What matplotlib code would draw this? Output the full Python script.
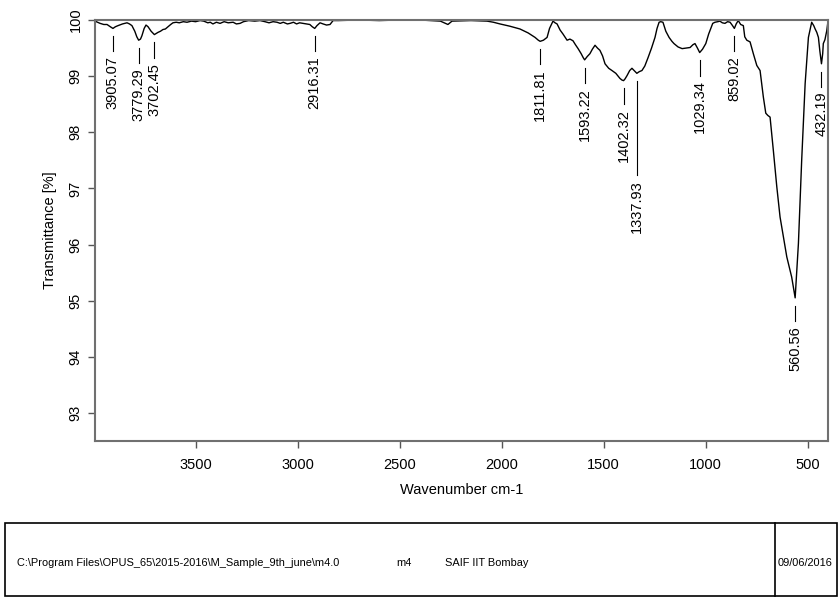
import matplotlib
matplotlib.use("Agg")
import matplotlib.pyplot as plt
from matplotlib.patches import Rectangle

plt.rcParams['font.family'] = ['Liberation Sans', 'DejaVu Sans']

# spectrum (wavenumber cm-1, transmittance %)
wavenumber = [3993, 3968, 3950, 3934, 3918, 3905, 3893, 3880, 3858, 3836, 3824, 3812,
              3798, 3788, 3779, 3770, 3763, 3752, 3743, 3733, 3718, 3702, 3693, 3684,
              3672, 3660, 3648, 3635, 3622, 3611, 3595, 3580, 3560, 3542, 3520, 3500,
              3478, 3460, 3440, 3428, 3415, 3398, 3380, 3360, 3340, 3316, 3300, 3282,
              3265, 3240, 3210, 3184, 3160, 3140, 3120, 3101, 3085, 3070, 3050, 3037,
              3020, 3005, 2990, 2973, 2955, 2940, 2928, 2916, 2905, 2890, 2875, 2858,
              2841, 2826, 2800, 2700, 2600, 2500, 2400, 2300, 2263, 2243, 2150, 2071,
              2040, 2008, 1960, 1910, 1870, 1836, 1820, 1811, 1795, 1777, 1765, 1748,
              1738, 1728, 1713, 1699, 1690, 1679, 1665, 1650, 1638, 1625, 1610, 1600,
              1593, 1580, 1567, 1555, 1542, 1530, 1518, 1505, 1493, 1475, 1459, 1440,
              1420, 1410, 1402, 1395, 1385, 1372, 1361, 1350, 1337, 1325, 1312, 1298,
              1282, 1265, 1248, 1238, 1228, 1220, 1209, 1195, 1179, 1165, 1155, 1135,
              1115, 1095, 1076, 1062, 1052, 1040, 1029, 1015, 999, 985, 965, 954,
              940, 930, 918, 905, 892, 880, 868, 859, 850, 840, 828, 815,
              808, 798, 782, 766, 749, 733, 717, 705, 695, 684, 668, 651,
              635, 619, 602, 578, 561, 545, 529, 512, 496, 480, 470, 463,
              455, 447, 440, 432, 426, 423, 415, 406, 400]
transmittance = [99.98, 99.94, 99.92, 99.92, 99.88, 99.85, 99.88, 99.90, 99.93, 99.95, 99.93, 99.90,
                 99.80, 99.70, 99.64, 99.66, 99.72, 99.85, 99.91, 99.88, 99.80, 99.74, 99.76, 99.78,
                 99.80, 99.83, 99.84, 99.88, 99.92, 99.95, 99.96, 99.95, 99.97, 99.96, 99.98, 99.97,
                 99.99, 99.98, 99.95, 99.96, 99.93, 99.96, 99.94, 99.97, 99.95, 99.96, 99.93, 99.94,
                 99.97, 99.99, 99.98, 99.99, 99.97, 99.95, 99.97, 99.96, 99.94, 99.96, 99.93, 99.94,
                 99.96, 99.93, 99.95, 99.94, 99.93, 99.92, 99.88, 99.85, 99.90, 99.95, 99.93, 99.91,
                 99.92, 99.99, 99.99, 100.0, 99.99, 100.0, 100.0, 99.98, 99.92, 99.98, 99.99, 99.98,
                 99.96, 99.93, 99.89, 99.84, 99.77, 99.69, 99.64, 99.62, 99.64, 99.69, 99.85, 99.98,
                 99.95, 99.93, 99.82, 99.75, 99.70, 99.64, 99.66, 99.63, 99.56, 99.49, 99.40, 99.33,
                 99.29, 99.35, 99.40, 99.48, 99.55, 99.50, 99.46, 99.36, 99.22, 99.14, 99.10, 99.05,
                 98.96, 98.93, 98.92, 98.95, 99.01, 99.10, 99.14, 99.10, 99.05, 99.08, 99.10, 99.18,
                 99.33, 99.50, 99.69, 99.85, 99.96, 99.97, 99.96, 99.80, 99.69, 99.62, 99.58, 99.52,
                 99.49, 99.50, 99.51, 99.56, 99.58, 99.50, 99.42, 99.48, 99.58, 99.75, 99.94, 99.96,
                 99.97, 99.98, 99.95, 99.94, 99.97, 99.96, 99.90, 99.85, 99.93, 99.99, 99.92, 99.90,
                 99.70, 99.64, 99.61, 99.40, 99.19, 99.10, 98.63, 98.34, 98.30, 98.27, 97.68, 97.03,
                 96.49, 96.14, 95.78, 95.42, 95.05, 96.02, 97.50, 98.87, 99.69, 99.96, 99.90, 99.84,
                 99.78, 99.69, 99.45, 99.22, 99.40, 99.58, 99.65, 99.81, 99.98]

# picked peaks
peak_labels = ["3905.07", "3779.29", "3702.45", "2916.31", "1811.81", "1593.22",
               "1402.32", "1337.93", "1029.34", "859.02", "560.56", "432.19"]
peak_wn = [3905.07, 3779.29, 3702.45, 2916.31, 1811.81, 1593.22,
           1402.32, 1337.93, 1029.34, 859.02, 560.56, 432.19]
peak_t = [99.85, 99.64, 99.74, 99.85, 99.62, 99.29,
          98.92, 99.05, 99.42, 99.85, 95.05, 99.22]

fig = plt.figure(figsize=(8.39, 5.98), dpi=100)
ax = fig.add_axes([95 / 839, 1 - 441 / 598, (828 - 95) / 839, (441 - 20) / 598])

ax.plot(wavenumber, transmittance, color="black", lw=1.0)

for lab, wn, t in zip(peak_labels, peak_wn, peak_t):
    top = t - 0.14
    length = 1.68 if lab == "1337.93" else 0.27
    ax.plot([wn, wn], [top, top - length], color="black", lw=0.8)
    ax.text(wn, top - length - 0.09, lab, rotation=90, ha="center", va="top", fontsize=10.5)

ax.set_xlim(3993, 400)
ax.set_ylim(92.5, 100)
ax.set_xticks([3500, 3000, 2500, 2000, 1500, 1000, 500])
ax.set_yticks([93, 94, 95, 96, 97, 98, 99, 100])
for lbl in ax.get_yticklabels():
    lbl.set_rotation(90)
    lbl.set_va("center")
ax.tick_params(axis="both", direction="out", length=5, width=1, color="#555555",
               labelsize=10.5)
ax.tick_params(axis="x", pad=7)
ax.tick_params(axis="y", pad=4)
for sp in ax.spines.values():
    sp.set_color("#707070")
    sp.set_linewidth(1.5)

ax.set_xlabel("Wavenumber cm-1", fontsize=10.5, labelpad=8)
ax.set_ylabel("Transmittance [%]", fontsize=10.5, labelpad=8)

# info box at the bottom
box = Rectangle((5 / 839, 2 / 598), 832 / 839, 73 / 598, transform=fig.transFigure,
                fill=False, edgecolor="black", lw=1.2)
fig.patches.append(box)
fig.add_artist(plt.Line2D([775 / 839, 775 / 839], [2 / 598, 75 / 598], color="black", lw=1.2))
ty = 1 - 563 / 598
fig.text(17 / 839, ty, "C:\\Program Files\\OPUS_65\\2015-2016\\M_Sample_9th_june\\m4.0",
         fontsize=7.9, va="center")
fig.text(396 / 839, ty, "m4", fontsize=7.9, va="center")
fig.text(445 / 839, ty, "SAIF IIT Bombay", fontsize=7.9, va="center")
fig.text(778 / 839, ty, "09/06/2016", fontsize=7.9, va="center")

fig.savefig("out.png", dpi=100)
